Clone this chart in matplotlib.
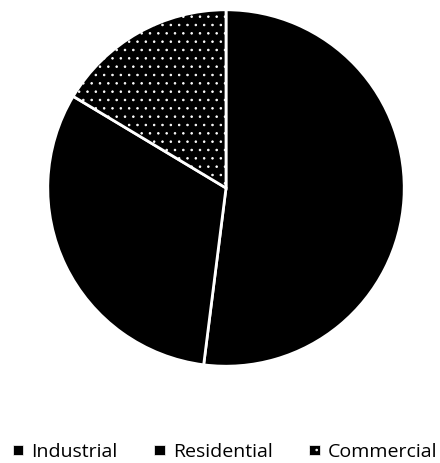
import matplotlib
matplotlib.use("Agg")
import matplotlib.pyplot as plt
from matplotlib.patches import Patch

categories = ["Industrial", "Residential", "Commercial"]
values = [52, 31.6, 16.4]

plt.rcParams["hatch.linewidth"] = 0.6
plt.rcParams["hatch.color"] = "white"

fig = plt.figure(figsize=(4.40, 4.63), dpi=100)
W, H = 440, 463
ax = fig.add_axes([46 / W, (H - 368) / H, 360 / W, 360 / H])
wedges, _ = ax.pie(values, startangle=90, counterclock=False, radius=1,
                   colors=["black", "black", "black"],
                   wedgeprops=dict(edgecolor="white", linewidth=2))
wedges[2].set_hatch("..")
ax.set_xlim(-1.01, 1.01)
ax.set_ylim(-1.01, 1.01)
ax.set_aspect("equal")
ax.axis("off")

handles = [Patch(facecolor="black", edgecolor="white", linewidth=0.5, label=categories[0]),
           Patch(facecolor="black", edgecolor="white", linewidth=0.5, label=categories[1]),
           Patch(facecolor="black", edgecolor="white", linewidth=0.5, hatch="..", label=categories[2])]
fig.legend(handles=handles, loc="center", bbox_to_anchor=(225 / W, 1 - 452 / H),
           ncol=3, frameon=False, handlelength=0.55, handleheight=0.45,
           handletextpad=0.4, columnspacing=1.9, borderpad=0,
           prop={"family": "Open Sans", "size": 14})
fig.savefig("out.png", dpi=100)
